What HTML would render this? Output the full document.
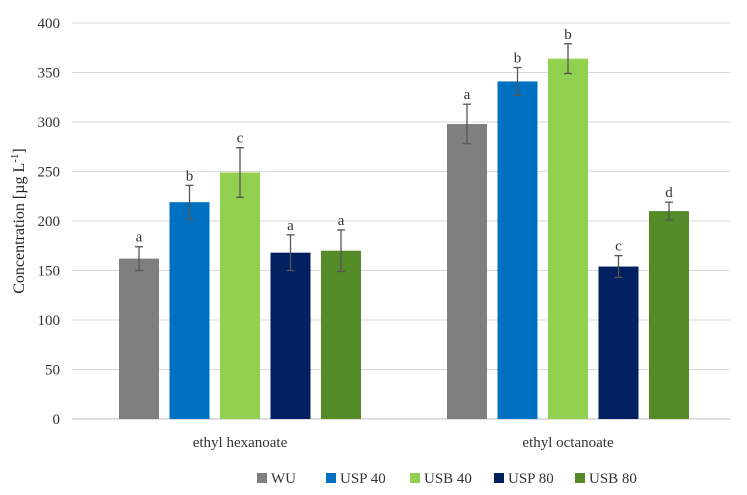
<!DOCTYPE html>
<html><head><meta charset="utf-8"><style>
body{margin:0;background:#fff;}
svg{font-family:"Liberation Serif",serif;}
</style></head><body>
<svg id="chart" width="747" height="490" viewBox="0 0 747 490" xmlns="http://www.w3.org/2000/svg">
<g id="grid"></g>
<g id="yticks"></g>
<text transform="translate(24,221) rotate(-90)" text-anchor="middle" font-size="16" fill="#222">Concentration [µg L<tspan baseline-shift="super" font-size="11">-1</tspan>]</text>
<g id="bars"></g>
<g id="cats"></g>
<g id="legend"></g>
</svg>
<script>
const categories=["ethyl hexanoate","ethyl octanoate"];
const seriesNames=["WU","USP 40","USB 40","USP 80","USB 80"];
const seriesColors=["#7f7f7f","#0070c0","#92d050","#002060","#568b2a"];
const values=[[162,298],[219,341],[249,364],[168,154],[170,210]];
const errors=[[12,20],[17,14],[25,15],[18,11],[21,9]];
const letters=[["a","a"],["b","b"],["c","b"],["a","c"],["a","d"]];
const yTicks=[0,50,100,150,200,250,300,350,400];
const NS="http://www.w3.org/2000/svg";
const x0=72,x1=730,px0=76,px1=732,yBase=419,yTop=23;
const y=v=>yBase-(v/400)*(yBase-yTop);
const groupCenter=i=>px0+(px1-px0)*(i+0.5)/categories.length;
const barW=40,step=50.5;
function mk(tag,attrs,parent){const e=document.createElementNS(NS,tag);for(const k in attrs)e.setAttribute(k,attrs[k]);parent.appendChild(e);return e;}
const grid=document.getElementById('grid'),yt=document.getElementById('yticks');
yTicks.forEach(t=>{
 const l=mk('line',{x1:x0,x2:x1,y1:y(t),y2:y(t),stroke:t===0?'#bfbfbf':'#d9d9d9','stroke-width':1},grid);
 
 
 const tx=mk('text',{x:60,y:y(t)+5,'text-anchor':'end','font-size':15,fill:'#333'},yt);
 tx.textContent=t;
 
 
});
const bars=document.getElementById('bars');
values.forEach((ser,s)=>{
 ser.forEach((v,c)=>{
  const cx=groupCenter(c)+(s-2)*step;
  const r=mk('rect',{x:cx-barW/2,y:y(v),width:barW,height:yBase-y(v),fill:seriesColors[s]},bars);
  
  
  const e=errors[s][c];
  const g=mk('g',{stroke:'#555','stroke-width':1.3},bars);
  
  
  mk('line',{x1:cx,x2:cx,y1:y(v+e),y2:y(v-e)},g);
  mk('line',{x1:cx-4,x2:cx+4,y1:y(v+e),y2:y(v+e)},g);
  mk('line',{x1:cx-4,x2:cx+4,y1:y(v-e),y2:y(v-e)},g);
  const t=mk('text',{x:cx,y:y(v+e)-5,'text-anchor':'middle','font-size':15,fill:'#333'},bars);
  t.textContent=letters[s][c];
  
  
 });
});
const cats=document.getElementById('cats');
categories.forEach((c,i)=>{
 const t=mk('text',{x:groupCenter(i),y:447,'text-anchor':'middle','font-size':15,fill:'#333'},cats);
 t.textContent=c;
 
 
});
const leg=document.getElementById('legend');
const legX=[257,326,410,494,575];
seriesNames.forEach((n,s)=>{
 const g=mk('g',{},leg);
 
 
 mk('rect',{x:legX[s],y:473,width:10,height:10,fill:seriesColors[s]},g);
 const t=mk('text',{x:legX[s]+14,y:483,'font-size':15,fill:'#333'},g);
 t.textContent=n;
});
</script>
</body></html>
